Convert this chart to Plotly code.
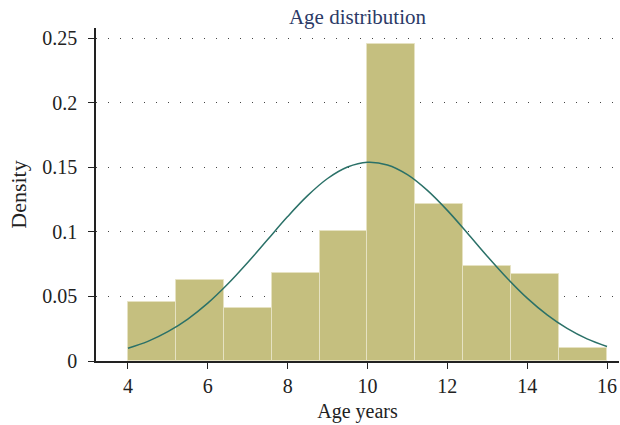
import plotly.graph_objects as go

# Histogram bins (age, years) and density values
bin_edges = [4.0, 5.2, 6.4, 7.6, 8.8, 10.0, 11.2, 12.4, 13.6, 14.8, 16.0]
densities = [0.0457, 0.0625, 0.0408, 0.0678, 0.1006, 0.2453, 0.1215, 0.0735, 0.0673, 0.0101]

# Fitted density curve
curve_x = [4.0, 4.5, 5.0, 5.5, 6.0, 6.5, 7.0, 7.5, 8.0, 8.5, 9.0, 9.5, 10.0,
           10.5, 11.0, 11.5, 12.0, 12.5, 13.0, 13.5, 14.0, 14.5, 15.0, 15.5, 16.0]
curve_y = [0.0099, 0.0152, 0.0227, 0.0325, 0.0448, 0.0596, 0.0763, 0.0941, 0.1119,
           0.1281, 0.1414, 0.1503, 0.1540, 0.1519, 0.1444, 0.1322, 0.1167, 0.0992,
           0.0812, 0.0641, 0.0487, 0.0357, 0.0252, 0.0171, 0.0112]

x_ticks = [4, 6, 8, 10, 12, 14, 16]
y_ticks = [0, 0.05, 0.1, 0.15, 0.2, 0.25]
y_tick_labels = ["0", "0.05", "0.1", "0.15", "0.2", "0.25"]

centers = [(a + b) / 2 for a, b in zip(bin_edges[:-1], bin_edges[1:])]
widths = [b - a for a, b in zip(bin_edges[:-1], bin_edges[1:])]

FONT = "Liberation Serif"

fig = go.Figure()
fig.add_trace(go.Bar(
    x=centers, y=densities, width=widths,
    marker=dict(color="#C5BF7F", line=dict(color="#E6E2C2", width=1)),
    hoverinfo="x+y",
))
fig.add_trace(go.Scatter(
    x=curve_x, y=curve_y, mode="lines",
    line=dict(color="#2B7168", width=1.5, shape="spline"),
))

fig.update_layout(
    width=620, height=425,
    margin=dict(l=96, r=1, t=28, b=64),
    paper_bgcolor="white", plot_bgcolor="white",
    showlegend=False,
    bargap=0,
    font=dict(family=FONT, size=20, color="#222"),
    title=dict(text="Age distribution", x=0.5, xanchor="center", xref="paper",
               yref="container", y=0.96, yanchor="middle",
               font=dict(family=FONT, size=21, color="#2B3A67")),
)
fig.update_xaxes(
    range=[3.2, 16.3], tickvals=x_ticks, ticks="outside", ticklen=6, tickwidth=1.2,
    tickcolor="#222", showline=True, linecolor="#222", linewidth=1.5,
    showgrid=False, zeroline=False, automargin=False,
    tickfont=dict(family=FONT, size=20),
    title=dict(text="Age years", font=dict(family=FONT, size=20), standoff=8),
)
fig.update_yaxes(
    range=[0, 0.258], tickvals=y_ticks, ticktext=y_tick_labels,
    ticks="outside", ticklen=6, tickwidth=1.2, tickcolor="#222",
    showline=True, linecolor="#222", linewidth=1.5,
    showgrid=True, gridcolor="#444", gridwidth=1.4, griddash="1.4px,10.6px",
    zeroline=False, automargin=False, ticklabelstandoff=7,
    tickfont=dict(family=FONT, size=20),
    title=dict(text="Density", font=dict(family=FONT, size=22), standoff=10),
)

fig.write_html(
    "out.html",
    config={"displayModeBar": False},
    post_script="document.body.style.margin='0';document.body.style.overflow='hidden';",
)
